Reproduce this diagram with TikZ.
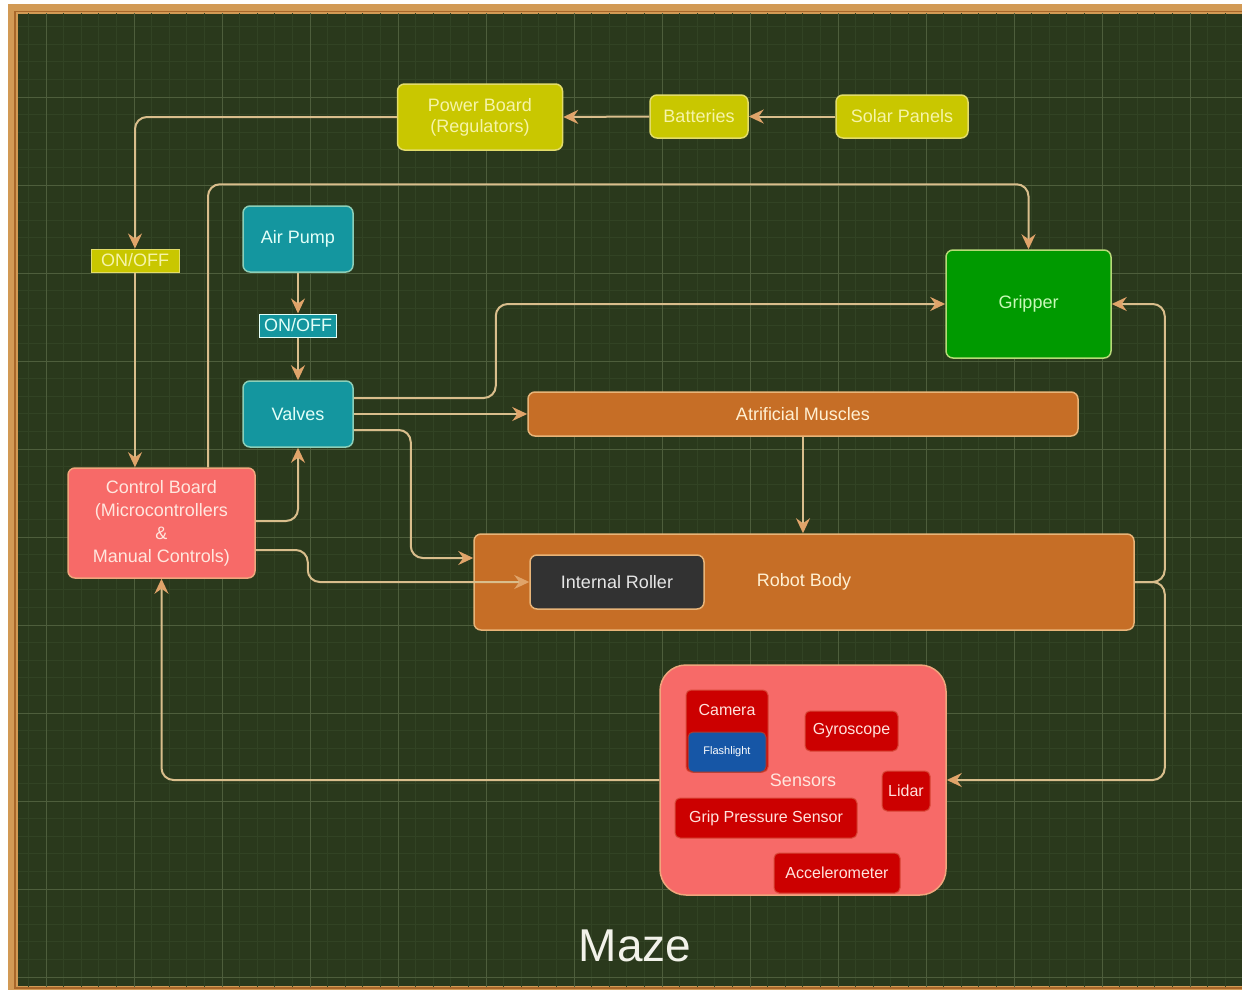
\documentclass[tikz,border=0pt]{standalone}
\usepackage{fontspec}
\setmainfont{Liberation Sans}
\usetikzlibrary{arrows.meta,calc}
\definecolor{bgc}{HTML}{2A391C}
\definecolor{minorc}{HTML}{324324}
\definecolor{majorc}{HTML}{4E5E3C}
\definecolor{framec}{HTML}{D29A55}
\definecolor{framed}{HTML}{A8672A}
\definecolor{linec}{HTML}{D9BE8C}
\definecolor{tipc}{HTML}{E0A46A}
\definecolor{yelf}{HTML}{C9C700}
\definecolor{yeld}{HTML}{E2DC6A}
\definecolor{yelt}{HTML}{F6F4A8}
\definecolor{tealf}{HTML}{14969F}
\definecolor{teald}{HTML}{8CCFB8}
\definecolor{tealt}{HTML}{E2FFF8}
\definecolor{salf}{HTML}{F76A68}
\definecolor{sald}{HTML}{F0A57C}
\definecolor{salt}{HTML}{FFE6DE}
\definecolor{grnf}{HTML}{009A00}
\definecolor{grnd}{HTML}{B6DA78}
\definecolor{grnt}{HTML}{C8F8B8}
\definecolor{orf}{HTML}{C66E26}
\definecolor{ord}{HTML}{E8B478}
\definecolor{ort}{HTML}{FFF0D2}
\definecolor{gryf}{HTML}{323232}
\definecolor{grytx}{HTML}{E6E6E6}
\definecolor{redf}{HTML}{CC0000}
\definecolor{redd}{HTML}{D84838}
\definecolor{redt}{HTML}{FFE2DC}
\definecolor{bluf}{HTML}{1656A6}
\definecolor{mazet}{HTML}{F2F2EA}
\begin{document}
\begin{tikzpicture}[x=1pt,y=-1pt,
  box/.style={rounded corners=7pt, line width=1.5pt, inner sep=2pt, align=center,
    font=\fontsize{18}{21}\selectfont},
  yelbox/.style={box, fill=yelf, draw=yeld, text=yelt},
  tealbox/.style={box, fill=tealf, draw=teald, text=tealt},
  salbox/.style={box, fill=salf, draw=sald, text=salt},
  grnbox/.style={box, fill=grnf, draw=grnd, text=grnt},
  orbox/.style={box, fill=orf, draw=ord, text=ort},
  grybox/.style={box, fill=gryf, draw=ord, text=grytx},
  redbox/.style={box, rounded corners=5pt, fill=redf, draw=redd, line width=1pt, text=redt,
    font=\fontsize{16}{18}\selectfont, minimum height=40pt},
  tagbox/.style={line width=1pt, inner sep=1pt, font=\fontsize{18}{20}\selectfont},
  conn/.style={draw=linec, line width=2pt, rounded corners=12pt,
    -{Stealth[length=15pt,width=14pt,inset=5pt,color=tipc]}},
  minorl/.style={draw=minorc, line width=0.8pt},
  majorl/.style={draw=majorc, line width=1pt}]
\useasboundingbox (0,0) rectangle (1242,990);
\fill[white] (0,0) rectangle (1242,990);
% frame
\fill[framec] (8,4) rectangle (1250,995);
\draw[framed, line width=1.5pt] (15,11.5) rectangle (1250,988);
\fill[bgc] (18,14) rectangle (1242,986);
% grid
\begin{scope}
\clip (18,14) rectangle (1242,986);
\foreach \i in {0,...,75} {\draw[minorl] ({-42+17.6*\i},0) -- ++(0,1000);}
\foreach \i in {0,...,60} {\draw[minorl] (0,{-79+17.6*\i}) -- ++(1250,0);}
\foreach \i in {0,...,15} {\draw[majorl] ({-42+88*\i},0) -- ++(0,1000);}
\foreach \i in {0,...,12} {\draw[majorl] (0,{-79+88*\i}) -- ++(1250,0);}
\end{scope}

% nodes
\node[yelbox, minimum width=165pt, minimum height=66pt] (pb) at (480,117) {Power Board\\(Regulators)};
\node[yelbox, minimum width=98pt, minimum height=43pt] (bat) at (699,116.5) {Batteries};
\node[yelbox, minimum width=132pt, minimum height=43pt] (sol) at (902,116.5) {Solar Panels};
\node[tagbox, fill=yelf, draw=yeld, text=yelt, minimum width=88pt, minimum height=23pt] (on1) at (135,260.5) {ON/OFF};
\node[tealbox, minimum width=110pt, minimum height=66pt] (ap) at (298,239) {Air Pump};
\node[tagbox, fill=tealf, draw=tealt, text=tealt, minimum width=77pt, minimum height=23pt] (on2) at (298,325.5) {ON/OFF};
\node[tealbox, minimum width=110pt, minimum height=66pt] (val) at (298,414) {Valves};
\node[salbox, minimum width=187pt, minimum height=110pt, font=\fontsize{18}{23}\selectfont] (cb) at (161.5,523) {Control Board\\(Microcontrollers\\\&\\Manual Controls)};
\node[grnbox, minimum width=165pt, minimum height=108pt] (grip) at (1028.5,304) {Gripper};
\node[orbox, minimum width=550pt, minimum height=44pt] (am) at (803,414) {Atrificial Muscles};
\node[orbox, minimum width=660pt, minimum height=96pt] (rb) at (804,582) {Robot Body};
\node[grybox, minimum width=174pt, minimum height=54pt] (ir) at (617,582) {Internal Roller};
\node[salbox, rounded corners=26pt, fill=salf, minimum width=286pt, minimum height=230pt] (sen) at (803,780) {Sensors};
\node[redbox, minimum width=82pt, minimum height=82pt,
  label={[anchor=north, text=redt, font=\fontsize{16}{18}\selectfont, yshift=-11pt]north:Camera}] (cam) at (727,731) {};
\node[box, rounded corners=5pt, fill=bluf, draw=redd!80!black, line width=1pt, text=white,
  font=\fontsize{11}{12}\selectfont, minimum width=78pt, minimum height=40pt] (fl) at (727,752) {Flashlight};
\node[redbox, minimum width=93pt] (gyro) at (851.5,731) {Gyroscope};
\node[redbox, minimum width=48pt] (lidar) at (906,791) {Lidar};
\node[redbox, minimum width=182pt] (gps) at (766,818) {Grip Pressure Sensor};
\node[redbox, minimum width=126pt] (acc) at (837,873) {Accelerometer};
\node[text=mazet, font=\fontsize{46}{50}\selectfont] (maze) at (635,946) {Maze};

% connectors
\draw[conn] (sol.west) -- (bat.east);
\draw[conn] (bat.west) -- (pb.east);
\draw[conn] (pb.west) -| (on1.north);
\draw[conn] (on1.south) -- (on1.south |- cb.north);
\draw[conn] ([xshift=46.5pt]cb.north) |- ([yshift=65pt]grip.north) -- (grip.north);
\draw[conn] (ap.south) -- (on2.north);
\draw[conn] (on2.south) -- (val.north);
\draw[conn] ([yshift=2pt]cb.east) -| (val.south);
\draw[conn] ([yshift=-27pt]cb.east) -- ++(52,0) |- (ir.west);
\draw[conn] ([yshift=16pt]val.east) -- ++(142,0) |- (grip.west);
\draw[conn] (val.east) -- (am.west);
\draw[conn] ([yshift=-16pt]val.east) -- ++(57,0) |- ([yshift=24pt]rb.west);
\draw[conn] (am.south) -- (am.south |- rb.north);
\draw[conn] (rb.east) -- ++(30,0) |- (grip.east);
\draw[conn] (rb.east) -- ++(30,0) |- (sen.east);
\draw[conn] (sen.west) -| (cb.south);
\end{tikzpicture}
\end{document}
